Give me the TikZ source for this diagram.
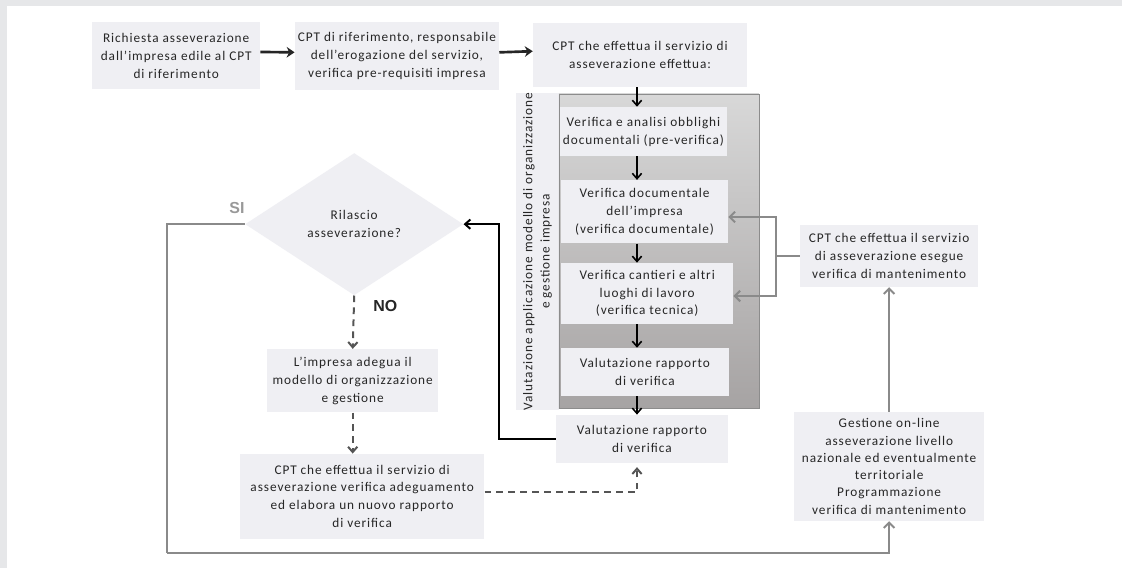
\documentclass[tikz,border=0pt]{standalone}
\usepackage{fontspec}
\setmainfont{Carlito}[LetterSpace=7]
\newfontfamily\tagfont{Liberation Sans}
\usetikzlibrary{shapes.geometric, arrows.meta, positioning, calc}
\definecolor{boxgray}{RGB}{239, 239, 243}
\definecolor{bandgray}{RGB}{230, 231, 233}
\definecolor{panellight}{RGB}{216, 216, 216}
\definecolor{paneldark}{RGB}{166, 163, 163}
\definecolor{linegray}{RGB}{138, 138, 138}
\definecolor{dashgray}{RGB}{85, 85, 85}

\begin{document}
\begin{tikzpicture}[
  stepbox/.style={fill=boxgray, align=center, inner sep=2pt, text=black!85, font=\fontsize{10}{13.5}\selectfont},
  toparrow/.style={-{Stealth[length=6pt, width=8pt]}, line width=2pt, black!85},
  downarrow/.style={-{Straight Barb[length=4pt, width=7pt]}, line width=1.2pt, black},
  greyarrow/.style={-{Straight Barb[length=4pt, width=8pt]}, line width=1.5pt, linegray},
  noarrow/.style={-{Straight Barb[length=4pt, width=7pt]}, line width=1.5pt, dashgray, dash pattern=on 5pt off 4pt}
]
  % Page and frame bands
  \useasboundingbox (0,0) rectangle (29.68,-15.03);
  \fill[white] (0,0) rectangle (29.68,-15.03);
  \fill[bandgray] (0,0) rectangle (29.68,-0.16);
  \fill[bandgray] (0,0) rectangle (0.185,-15.03);

  % Top row
  \node[stepbox, minimum width=4.44cm, minimum height=1.77cm] (req) at (4.66, -1.48) {
    Richiesta asseverazione\\
    dall’impresa edile al CPT\\
    di riferimento
  };
  \node[stepbox, minimum width=5.40cm, minimum height=1.80cm] (ref) at (10.50, -1.49) {
    CPT di riferimento, responsabile\\
    dell’erogazione del servizio,\\
    verifica pre-requisiti impresa
  };
  \node[stepbox, minimum width=5.66cm, minimum height=1.69cm] (serv) at (16.93, -1.46) {
    CPT che effettua il servizio di\\
    asseverazione effettua:
  };

  % Evaluation panel
  \node[fill=boxgray, rotate=90, minimum width=8.33cm, minimum height=1.14cm, align=center,
    inner sep=0pt, text=black!85, font=\fontsize{10}{13}\selectfont] (vlabel) at (14.22, -6.65) {
    Valutazione applicazione modello di organizzazione\\
    e gestione impresa
  };
  \node[top color=panellight, bottom color=paneldark, draw=black!45, line width=0.6pt,
    minimum width=5.29cm, minimum height=8.31cm, inner sep=0pt] (panel) at (17.43, -6.64) {};

  \node[stepbox, minimum width=4.42cm, minimum height=1.30cm] (prever) at (17.02, -3.48) {
    Verifica e analisi obblighi\\
    documentali (pre-verifica)
  };
  \node[stepbox, minimum width=4.42cm, minimum height=1.67cm] (docver) at (17.05, -5.60) {
    Verifica documentale\\
    dell’impresa\\
    (verifica documentale)
  };
  \node[stepbox, minimum width=4.55cm, minimum height=1.61cm] (tecver) at (17.12, -7.76) {
    Verifica cantieri e altri\\
    luoghi di lavoro\\
    (verifica tecnica)
  };
  \node[stepbox, minimum width=4.44cm, minimum height=1.27cm] (valin) at (17.06, -9.84) {
    Valutazione rapporto\\
    di verifica
  };
  \node[stepbox, minimum width=4.55cm, minimum height=1.27cm] (valout) at (16.98, -11.61) {
    Valutazione rapporto\\
    di verifica
  };

  % Decision and adjustment
  \node[diamond, fill=boxgray, aspect=1.53, minimum width=5.77cm, minimum height=3.76cm,
    inner sep=0pt, align=center, text=black!85, font=\fontsize{10}{13.5}\selectfont] (dec) at (9.37, -5.93) {
    Rilascio\\
    asseverazione?
  };
  \node[stepbox, minimum width=4.52cm, minimum height=1.67cm] (adj) at (9.33, -10.07) {
    L’impresa adegua il\\
    modello di organizzazione\\
    e gestione
  };
  \node[stepbox, minimum width=6.46cm, minimum height=2.25cm] (newrep) at (9.58, -13.13) {
    CPT che effettua il servizio di\\
    asseverazione verifica adeguamento\\
    ed elabora un nuovo rapporto\\
    di verifica
  };

  % Maintenance side
  \node[stepbox, minimum width=4.71cm, minimum height=1.64cm] (maint) at (23.52, -6.77) {
    CPT che effettua il servizio\\
    di asseverazione esegue\\
    verifica di mantenimento
  };
  \node[stepbox, minimum width=5.03cm, minimum height=2.88cm, font=\fontsize{10}{13}\selectfont] (online) at (23.52, -12.34) {
    Gestione on-line\\
    asseverazione livello\\
    nazionale ed eventualmente\\
    territoriale\\
    Programmazione\\
    verifica di mantenimento
  };

  % Labels
  \node[font=\tagfont\bfseries\fontsize{12}{12}\selectfont, text=black!40] (si) at (6.27, -5.50) {SI};
  \node[font=\tagfont\bfseries\fontsize{12}{12}\selectfont, text=black!85] (no) at (10.19, -8.10) {NO};

  % Bend points
  \coordinate (spine) at (16.85, 0);
  \coordinate (loopx) at (13.20, 0);
  \coordinate (siturn) at (4.42, -14.63);
  \coordinate (fork) at (20.53, -6.77);

  % Connectors
  \draw[toparrow] ([yshift=3pt]req.east) -- ([yshift=3pt]ref.west);
  \draw[toparrow] ([yshift=3pt]ref.east) -- ([yshift=3pt]serv.west);
  \draw[downarrow] (serv.south -| spine) -- (prever.north -| spine);
  \draw[downarrow] (prever.south -| spine) -- (docver.north -| spine);
  \draw[downarrow] (docver.south -| spine) -- (tecver.north -| spine);
  \draw[downarrow] (tecver.south -| spine) -- (valin.north -| spine);
  \draw[downarrow] (valin.south -| spine) -- (valout.north -| spine);
  \draw[downarrow, line width=1.5pt] (valout.west) -- (valout.west -| loopx) |- (dec.east);

  \draw[greyarrow, -] (dec.west) -| (siturn);
  \draw[greyarrow] (siturn) -| (online.south);
  \draw[greyarrow] (online.north) -- (maint.south);
  \draw[greyarrow, -] (maint.west) -- (fork);
  \draw[greyarrow] (fork) |- ([yshift=-4pt]docver.east);
  \draw[greyarrow] (fork) |- ([yshift=-2pt]tecver.east);

  \draw[noarrow] (dec.south) -- (adj.north);
  \draw[noarrow] (adj.south) -- (adj.south |- newrep.north);
  \draw[noarrow, shorten >=3pt] ([yshift=3pt]newrep.east) -| (valout.south -| spine);
\end{tikzpicture}
\end{document}
